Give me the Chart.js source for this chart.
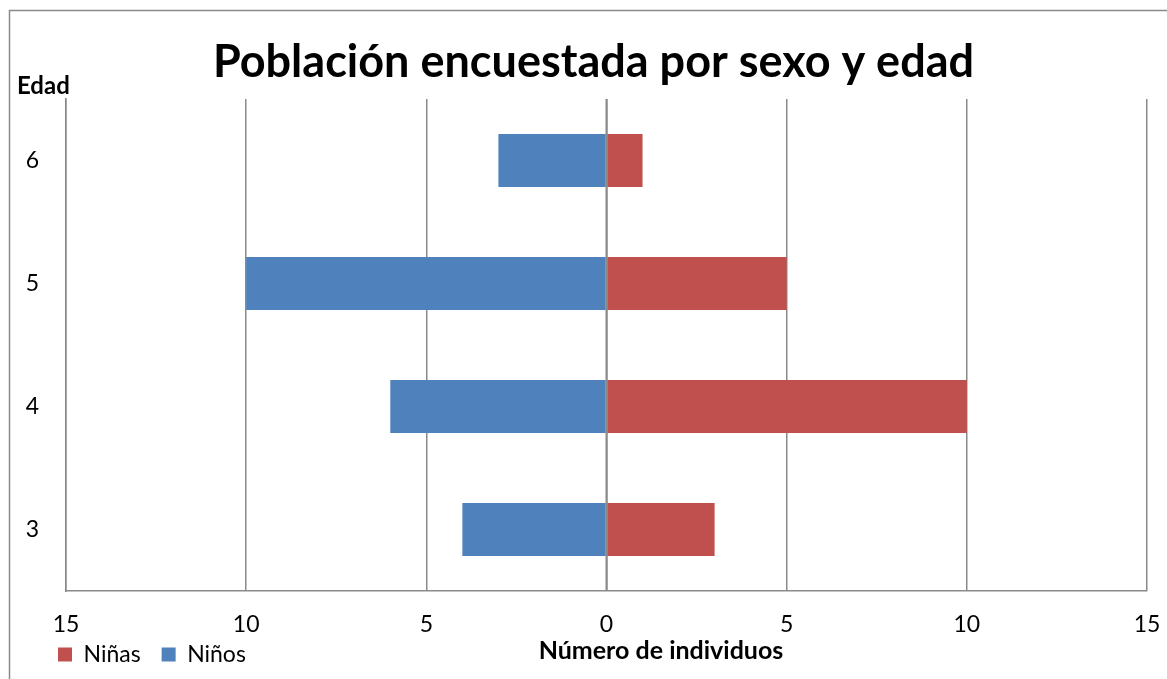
<!DOCTYPE html>
<html>
<head>
<meta charset="utf-8">
<script src="https://cdn.jsdelivr.net/npm/chart.js@4"></script>
<style>
  html, body { margin: 0; padding: 0; background: #fff; }
  #wrap { width: 1167px; height: 679px; }
</style>
</head>
<body>
<div id="wrap"><canvas id="myChart" width="1167" height="679"></canvas></div>
<script>
// Edad en el eje vertical, de arriba hacia abajo como en el original
var edades = ["6", "5", "4", "3"];
// niños a la izquierda (negativos), niñas a la derecha
var ninos = [-3, -10, -6, -4];
var ninas = [1, 5, 10, 3];
var ticksX = [-15, -10, -5, 0, 5, 10, 15];

var FONT = "Lato, 'Open Sans', sans-serif";
var GRIS = "#8a8a8a";

// marco del grafico, rotulo "Edad", titulo del eje x y linea del cero encima de las barras
var extras = {
  id: "extras",
  beforeDraw: function(chart) {
    var ctx = chart.ctx;
    ctx.save();
    ctx.strokeStyle = GRIS;
    ctx.lineWidth = 1.5;
    ctx.beginPath();
    ctx.moveTo(9.5, 679);
    ctx.lineTo(9.5, 10.5);
    ctx.lineTo(1167, 10.5);
    ctx.stroke();
    ctx.restore();
  },
  afterLayout: function(chart) {
    // la leyenda del original va mas a la derecha y mas abajo
    var lg = chart.legend;
    var dx = 58 - 21 - lg.left;
    var dy = 622 - lg.top;
    lg.left += dx; lg.right += dx;
    lg.top += dy; lg.bottom += dy;
    // el titulo esta centrado en todo el ancho del grafico
    var tb = chart.titleBlock;
    tb.left += 20; tb.right += 20;
  },
  afterDatasetsDraw: function(chart) {
    var ctx = chart.ctx;
    var area = chart.chartArea;
    var x0 = chart.scales.x.getPixelForValue(0);
    ctx.save();
    ctx.strokeStyle = GRIS;
    ctx.lineWidth = 2;
    ctx.beginPath();
    ctx.moveTo(x0, area.top);
    ctx.lineTo(x0, area.bottom);
    ctx.stroke();
    ctx.restore();
  },
  afterDraw: function(chart) {
    var ctx = chart.ctx;
    ctx.save();
    ctx.fillStyle = "#000";
    ctx.textBaseline = "middle";
    ctx.textAlign = "left";
    ctx.font = "bold 24px " + FONT;
    ctx.fillText("Edad", 17, 86);
    ctx.textAlign = "center";
    ctx.font = "bold 25px " + FONT;
    ctx.fillText("Número de individuos", 661, 651);
    ctx.restore();
  }
};

var data = {
  labels: edades,
  datasets: [
    {
      label: "Niñas",
      data: ninas,
      backgroundColor: "#C0504D",
      categoryPercentage: 1,
      barPercentage: 0.43
    },
    {
      label: "Niños",
      data: ninos,
      backgroundColor: "#4F81BD",
      categoryPercentage: 1,
      barPercentage: 0.43
    }
  ]
};

var options = {
  indexAxis: "y",
  responsive: false,
  animation: false,
  layout: { padding: { top: 0, right: 20, bottom: -14, left: 0 } },
  plugins: {
    title: {
      display: true,
      text: "Población encuestada por sexo y edad",
      color: "#000",
      font: { family: FONT, size: 45, weight: "bold" },
      padding: { top: 35, bottom: 10 }
    },
    legend: {
      position: "bottom",
      align: "start",
      labels: {
        color: "#000",
        font: { family: FONT, size: 23 },
        boxWidth: 14,
        boxHeight: 14,
        padding: 21
      }
    },
    tooltip: { enabled: false }
  },
  scales: {
    x: {
      stacked: true,
      min: -15,
      max: 15,
      afterBuildTicks: function(scale) {
        scale.ticks = ticksX.map(function(v) { return { value: v }; });
      },
      afterFit: function(scale) {
        scale.height = 48;
        scale.paddingLeft = 0;
        scale.paddingRight = 0;
      },
      ticks: {
        color: "#000",
        font: { family: FONT, size: 23 },
        padding: 20,
        maxRotation: 0,
        callback: function(v) { return Math.abs(v); }
      },
      grid: { color: GRIS, lineWidth: 1.5, drawTicks: false },
      border: { color: GRIS, width: 1.5 }
    },
    y: {
      stacked: true,
      afterFit: function(scale) { scale.width = 66; },
      ticks: {
        color: "#000",
        font: { family: FONT, size: 23 },
        crossAlign: "near",
        padding: 27
      },
      grid: { display: false, drawTicks: false },
      border: { color: GRIS, width: 1.5 }
    }
  }
};

var ctx = document.getElementById("myChart").getContext("2d");
var myChart = new Chart(ctx, {
  type: "bar",
  data: data,
  options: options,
  plugins: [extras]
});
</script>
</body>
</html>
